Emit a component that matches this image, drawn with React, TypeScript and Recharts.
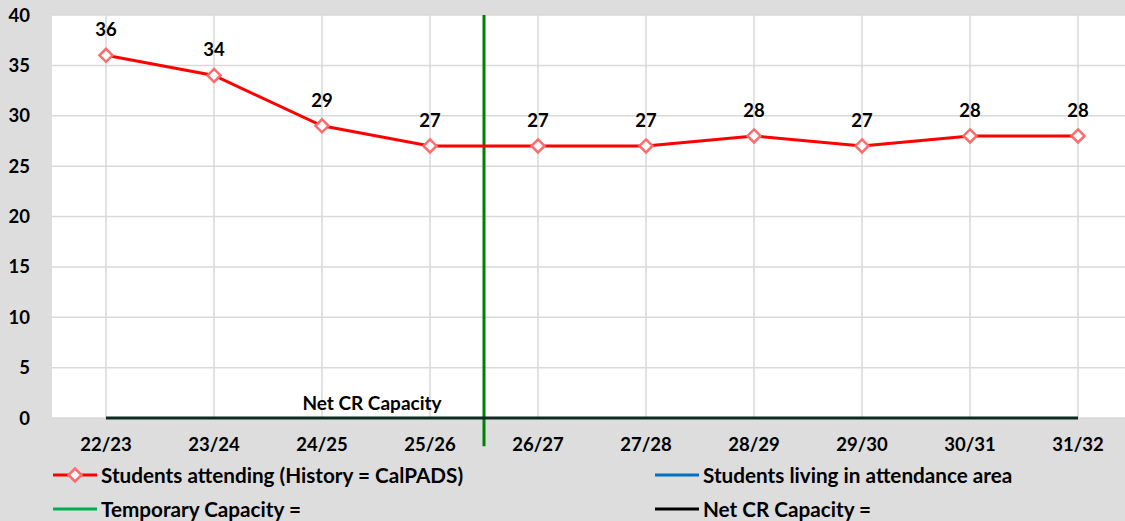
import React from 'react';
import {
  LineChart, Line, XAxis, YAxis, CartesianGrid, ReferenceLine, LabelList,
} from 'recharts';

const years = ['22/23', '23/24', '24/25', '25/26', '26/27', '27/28', '28/29', '29/30', '30/31', '31/32'];
const attending = [36, 34, 29, 27, 27, 27, 28, 27, 28, 28];
const netCapacity = [0, 0, 0, 0, 0, 0, 0, 0, 0, 0];
const yTicks = [0, 5, 10, 15, 20, 25, 30, 35, 40];
// boundary between history and projection (between 25/26 and 26/27)
const splitAt = 3.5;

const legendItems = [
  { name: 'Students attending (History = CalPADS)', color: '#ff0000', marker: true },
  { name: 'Students living in attendance area', color: '#0070c0', marker: false },
  { name: 'Temporary Capacity =', color: '#00b050', marker: false },
  { name: 'Net CR Capacity =', color: '#000000', marker: false },
];

const FONT = 'Lato, "Open Sans", sans-serif';

const data = years.map((y, i) => ({
  idx: i,
  year: y,
  attending: attending[i],
  net: netCapacity[i],
}));

function Diamond(props: any) {
  const { cx, cy } = props;
  if (cx == null || cy == null) return null;
  const r = 6.5;
  return (
    <path
      d={`M${cx},${cy - r} L${cx + r},${cy} L${cx},${cy + r} L${cx - r},${cy} Z`}
      fill="#fff"
      stroke="#ff6b6b"
      strokeWidth={2.5}
    />
  );
}

function NetLabel(props: any) {
  const { x, y, index } = props;
  if (index !== 2) return null;
  return (
    <text x={x + 50} y={y - 8} textAnchor="middle" fontSize={19} fontWeight={700} fill="#000" fontFamily={FONT}>
      Net CR Capacity
    </text>
  );
}

export default function App() {
  return (
    <div style={{ position: 'absolute', left: 0, top: 0, width: 1125, height: 521, background: '#dddddd', overflow: 'hidden', fontFamily: FONT }}>
      <LineChart width={1132} height={521} data={data} margin={{ top: 15, right: 0, bottom: 63, left: 0 }}>
        <CartesianGrid stroke="#d9d9d9" strokeWidth={1.5} fill="#ffffff" verticalValues={data.map((d) => d.idx)} />
        <XAxis
          dataKey="idx"
          type="number"
          domain={[-0.5, 9.5]}
          ticks={data.map((d) => d.idx)}
          tickFormatter={(v: number) => years[v]}
          axisLine={false}
          tickLine={false}
          tickSize={0}
          tickMargin={20}
          height={40}
          tick={{ fontSize: 18.5, fontWeight: 700, fill: '#000', fontFamily: FONT }}
          interval={0}
        />
        <YAxis
          domain={[0, 40]}
          ticks={yTicks}
          axisLine={false}
          tickLine={false}
          tickSize={0}
          tickMargin={22}
          width={52}
          tick={{ fontSize: 18.5, fontWeight: 700, fill: '#000', fontFamily: FONT }}
        />
        <ReferenceLine
          segment={[{ x: splitAt, y: 40 }, { x: splitAt, y: -2.8 }]}
          stroke="#008000"
          strokeWidth={3}
          ifOverflow="visible"
        />
        <Line dataKey="net" stroke="#0f2a22" strokeWidth={3} dot={false} isAnimationActive={false}>
          <LabelList dataKey="net" content={NetLabel} />
        </Line>
        <Line dataKey="attending" stroke="#ff0000" strokeWidth={3} dot={<Diamond />} isAnimationActive={false}>
          <LabelList dataKey="attending" position="top" offset={19} style={{ fontSize: 18.5, fontWeight: 700, fill: '#000', fontFamily: FONT }} />
        </Line>
      </LineChart>
      {legendItems.map((it, i) => {
        const col = i % 2;
        const row = Math.floor(i / 2);
        const left = col === 0 ? 53 : 655;
        const top = row === 0 ? 475 : 509;
        return (
          <div key={it.name} style={{ position: 'absolute', left, top: top - 14, height: 28, display: 'flex', alignItems: 'center' }}>
            <svg width={46} height={20} style={{ marginRight: 2 }}>
              <line x1={0} y1={10} x2={44} y2={10} stroke={it.color} strokeWidth={3} />
              {it.marker && <path d="M22,3.5 L28.5,10 L22,16.5 L15.5,10 Z" fill="#fff" stroke="#ff6b6b" strokeWidth={2.5} />}
            </svg>
            <span style={{ fontSize: 20.7, fontWeight: 700, color: '#000', whiteSpace: 'nowrap' }}>{it.name}</span>
          </div>
        );
      })}
    </div>
  );
}
